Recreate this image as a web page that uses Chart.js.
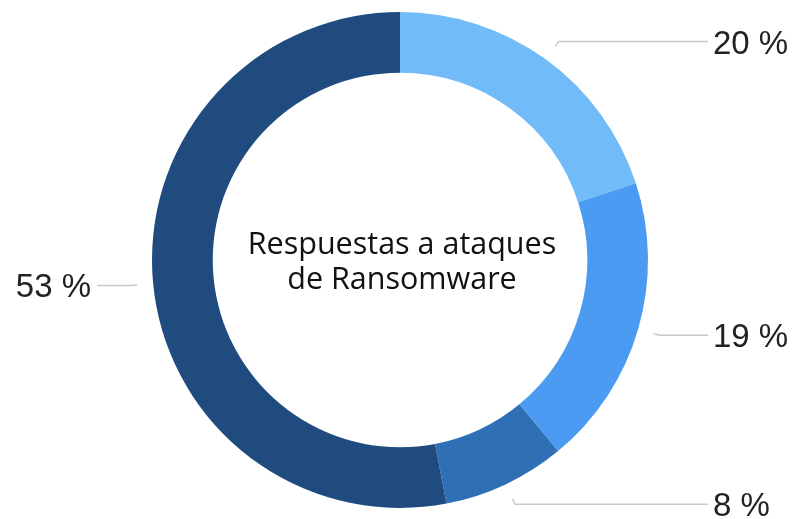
<!DOCTYPE html>
<html lang="es">
<head>
<meta charset="utf-8">
<title>Respuestas a ataques de Ransomware</title>
<script src="https://cdn.jsdelivr.net/npm/chart.js"></script>
<style>
    html, body { margin: 0; padding: 0; background: #fff; }
    #wrap { width: 795px; height: 519px; position: relative; }
</style>
</head>
<body>
<div id="wrap"><canvas id="ransom-chart"></canvas></div>
<script>
const categories = ['Respuesta A', 'Respuesta B', 'Respuesta C', 'Respuesta D'];
const shares = [20, 19, 8, 53];
const sliceColors = ['#72bbf9', '#4a9bf1', '#2f6fb5', '#1f4b7f'];
const centerLines = ['Respuestas a ataques', 'de Ransomware'];

// percent labels with leader lines, placed in a column on each side
const leaderLabels = {
    id: 'leaderLabels',
    afterDatasetsDraw(chart) {
        const ctx = chart.ctx;
        const arcs = chart.getDatasetMeta(0).data;
        const rightX = 708;
        const leftX = 97;
        ctx.save();
        ctx.font = '33px "Liberation Sans", Arial, sans-serif';
        ctx.fillStyle = '#222';
        ctx.strokeStyle = '#c9c9c9';
        ctx.lineWidth = 1.5;
        arcs.forEach(function(arc, i) {
            const p = arc.getProps(['x', 'y', 'startAngle', 'endAngle', 'outerRadius'], true);
            const mid = (p.startAngle + p.endAngle) / 2;
            const cos = Math.cos(mid), sin = Math.sin(mid);
            const r0 = p.outerRadius + 16;
            const r1 = p.outerRadius + 22;
            const x0 = p.x + cos * r0, y0 = p.y + sin * r0;
            const x1 = p.x + cos * r1, y1 = p.y + sin * r1;
            const right = cos >= 0;
            const endX = right ? rightX : leftX;

            ctx.beginPath();
            ctx.moveTo(x0, y0);
            ctx.lineTo(x1, y1);
            ctx.lineTo(endX, y1);
            ctx.stroke();

            ctx.textAlign = right ? 'left' : 'right';
            ctx.textBaseline = 'alphabetic';
            ctx.fillText(shares[i] + ' %', right ? endX + 5 : endX - 6, y1 + 12);
        });
        ctx.restore();
    }
};

const centerTitle = {
    id: 'centerTitle',
    afterDraw(chart) {
        const ctx = chart.ctx;
        const arc = chart.getDatasetMeta(0).data[0];
        ctx.save();
        ctx.font = '500 30.5px "Open Sans", Lato, sans-serif';
        ctx.fillStyle = '#111';
        ctx.textAlign = 'center';
        ctx.textBaseline = 'alphabetic';
        ctx.fillText(centerLines[0], arc.x + 2, 254);
        ctx.fillText(centerLines[1], arc.x + 2, 289);
        ctx.restore();
    }
};

document.addEventListener('DOMContentLoaded', function() {
    const ctx = document.getElementById('ransom-chart').getContext('2d');

    new Chart(ctx, {
        type: 'doughnut',
        data: {
            labels: categories,
            datasets: [{
                data: shares,
                backgroundColor: sliceColors,
                borderWidth: 0
            }]
        },
        options: {
            responsive: true,
            maintainAspectRatio: false,
            animation: false,
            cutout: '75.5%',
            layout: {
                padding: { top: 12, bottom: 11, left: 152, right: 147 }
            },
            plugins: {
                legend: { display: false },
                tooltip: { enabled: false }
            }
        },
        plugins: [leaderLabels, centerTitle]
    });
});
</script>
</body>
</html>
